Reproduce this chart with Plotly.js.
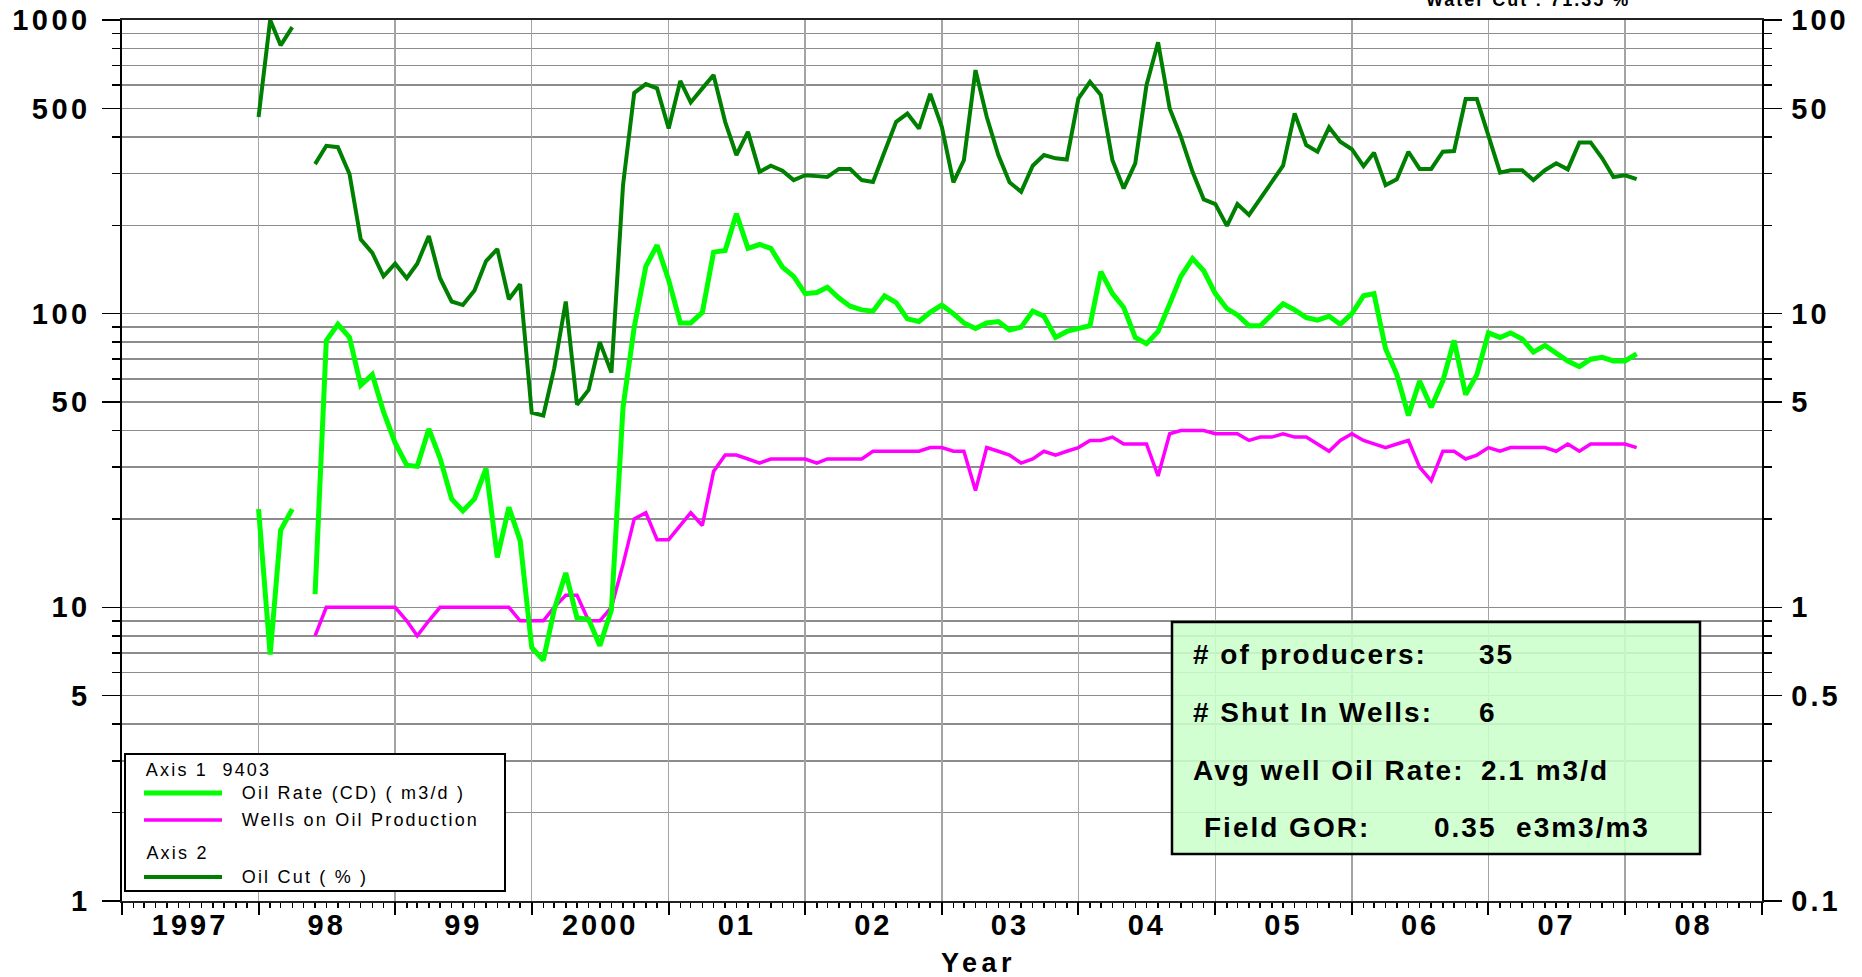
<!DOCTYPE html>
<html>
<head>
<meta charset="utf-8">
<script src="https://cdn.plot.ly/plotly-3.0.1.min.js"></script>
<style>
  html, body { margin: 0; padding: 0; background: #ffffff; }
  #chart { width: 1862px; height: 977px; }
  .xtick text { letter-spacing: 3px; }
  .ytick text { letter-spacing: 3.5px; }
  .y2tick text { letter-spacing: 3px; }
</style>
</head>
<body>
<div id="chart"></div>
<script>
// ---------------- DATA (monthly, Jan 1998 .. Feb 2008) ----------------
const firstYear = 1998;

// Oil Rate (CD) (m3/d) — Axis 1
const oilRate = [
  21.6, 6.9, 18.3, 21.6, null, 11.1, 81, 92, 83, 57, 62, 46.3,
  36.3, 30.5, 30.2, 40.5, 32.2, 23.4, 21.3, 23.4, 29.7, 14.8, 21.9, 16.9,
  7.3, 6.6, 9.8, 13.1, 9.2, 9.1, 7.4, 9.8, 48, 90, 145, 171,
  130, 93, 93, 101, 162, 164, 219, 167, 172, 167, 144, 134,
  117, 118, 123, 113, 106, 103, 102, 115, 109, 96, 94, 101,
  107, 100, 93, 89, 93, 94, 88, 90, 102, 98, 83, 87,
  89, 91, 139, 117, 105, 83, 79, 87, 108, 134, 154, 140,
  117, 104, 99, 91, 91, 99, 108, 103, 97, 95, 98, 92,
  100, 115, 117, 76, 62, 45, 59, 48, 59, 81, 53, 62,
  86, 83, 86, 82, 74, 78, 73, 69, 66, 70, 71, 69,
  69, 73
];

// Wells on Oil Production — Axis 1
const wellsOnProd = [
  null, null, null, null, null, 8, 10, 10, 10, 10, 10, 10,
  10, 9, 8, 9, 10, 10, 10, 10, 10, 10, 10, 9,
  9, 9, 10, 11, 11, 9, 9, 10, 14, 20, 21, 17,
  17, 19, 21, 19, 29, 33, 33, 32, 31, 32, 32, 32,
  32, 31, 32, 32, 32, 32, 34, 34, 34, 34, 34, 35,
  35, 34, 34, 25, 35, 34, 33, 31, 32, 34, 33, 34,
  35, 37, 37, 38, 36, 36, 36, 28, 39, 40, 40, 40,
  39, 39, 39, 37, 38, 38, 39, 38, 38, 36, 34, 37,
  39, 37, 36, 35, 36, 37, 30, 27, 34, 34, 32, 33,
  35, 34, 35, 35, 35, 35, 34, 36, 34, 36, 36, 36,
  36, 35
];

// Oil Cut (%) — Axis 2
const oilCut = [
  46.7, 100, 82, 94.6, null, 32.3, 37.3, 36.9, 29.9, 17.9, 16.1, 13.4,
  14.8, 13.2, 14.8, 18.4, 13.2, 11.0, 10.7, 12.0, 15.1, 16.6, 11.2, 12.6,
  4.6, 4.5, 6.5, 11.0, 4.9, 5.5, 8.0, 6.3, 27.4, 56.5, 60.5, 58.5,
  42.7, 62, 52.4, 58.5, 65, 45, 34.7, 41.6, 30.4, 31.9, 30.7, 28.5,
  29.6, 29.4, 29.2, 31.1, 31.1, 28.5, 28.1, 35.6, 45, 48, 42.7, 56,
  43.3, 28, 33.3, 67.5, 46.8, 34.7, 28, 26, 31.9, 34.7, 33.8, 33.5,
  54, 61.6, 55.5, 33.3, 26.7, 32.5, 60, 84, 50, 40, 30.4, 24.5,
  23.6, 19.9, 23.6, 21.7, 24.7, 28, 31.9, 48.1, 37.5, 35.6, 43.1, 38.5,
  36.3, 31.8, 35.3, 27.4, 28.7, 35.6, 31.1, 31.1, 35.6, 35.8, 53.8, 53.8,
  40, 30.2, 30.8, 30.8, 28.5, 30.8, 32.5, 31, 38.3, 38.3, 33.8, 29.2,
  29.6, 28.7
];

// Axis labels
const axisYears = [1997, 1998, 1999, 2000, 2001, 2002, 2003, 2004, 2005, 2006, 2007, 2008];
const yearLabels = ['1997', '98', '99', '2000', '01', '02', '03', '04', '05', '06', '07', '08'];
const leftTickVals = [1, 5, 10, 50, 100, 500, 1000];
const leftTickText = ['1', '5', '10', '50', '100', '500', '1000'];
const rightTickVals = [0.1, 0.5, 1, 5, 10, 50, 100];
const rightTickText = ['0.1', '0.5', '1', '5', '10', '50', '100'];

const legendTitle1 = 'Axis 1\u00a0\u00a09403';
const legendTitle2 = 'Axis 2';
const seriesNames = ['Oil Rate (CD) ( m3/d )', 'Wells on Oil Production', 'Oil Cut ( % )'];
const infoLabels = ['# of producers:', '# Shut In Wells:', 'Avg well Oil Rate:', 'Field GOR:'];
const infoValues = ['35', '6', '2.1 m3/d', '0.35\u00a0\u00a0e3m3/m3'];
const topNote = 'Water Cut : 71.35 %';

// ---------------- BUILD ----------------
const months = oilRate.map((_, i) => {
  const y = firstYear + Math.floor(i / 12);
  const m = (i % 12) + 1;
  return y + '-' + String(m).padStart(2, '0') + '-01';
});
const yearMid = axisYears.map(y => y + '-07-02');
const yearStart = axisYears.concat([2009]).map(y => y + '-01-01');
const xRange = ['1997-01-01', '2009-01-01'];

function minorLogVals(lo, hi, skip) {
  const out = [];
  for (let d = lo; d < hi; d *= 10) {
    for (let k = 2; k <= 9; k++) {
      if (skip.indexOf(k) === -1) out.push(+(k * d).toPrecision(3));
    }
  }
  return out;
}
const leftMinor = minorLogVals(1, 1000, [5]);
const rightMinor = minorLogVals(0.1, 100, [5]);

const FONT = 'Liberation Sans, Arial, Helvetica, sans-serif';
const C_RATE = '#00ff00', C_WELLS = '#ff00ff', C_CUT = '#008000';

const traces = [
  { x: months, y: wellsOnProd, type: 'scatter', mode: 'lines', name: seriesNames[1],
    line: { color: C_WELLS, width: 3.5 }, connectgaps: false, xaxis: 'x', yaxis: 'y' },
  { x: months, y: oilRate, type: 'scatter', mode: 'lines', name: seriesNames[0],
    line: { color: C_RATE, width: 5 }, connectgaps: false, xaxis: 'x', yaxis: 'y' },
  { x: months, y: oilCut, type: 'scatter', mode: 'lines', name: seriesNames[2],
    line: { color: C_CUT, width: 4 }, connectgaps: false, xaxis: 'x2', yaxis: 'y2' }
];

// plot area in px: left 122, right 1762, top 20, bottom 901
const PL = 122, PR = 1762, PT = 20, PB = 901;
const px = v => (v - PL) / (PR - PL);
const py = v => (PB - v) / (PB - PT);

// letter spacing per annotation (applied by CSS below); plotly measures the text
// without it, so left-anchored texts are shifted by half the extra width.
const annSpacing = [];
const ann = (text, x, y, size, bold, xanchor, ls) => {
  ls = ls || 0;
  const anchor = xanchor || 'left';
  const shift = anchor === 'left' ? text.length * ls / 2 : 0;
  annSpacing.push(ls);
  return {
    text: text, xref: 'paper', yref: 'paper', x: px(x + shift), y: py(y),
    xanchor: anchor, yanchor: 'middle', showarrow: false,
    font: { family: FONT, size: size, color: '#000', weight: bold ? 'bold' : 'normal' }
  };
};

const annotations = [
  ann(legendTitle1, 144, 770, 18, false, 'left', 2.2),
  ann(seriesNames[0], 240, 793, 18, false, 'left', 2.2),
  ann(seriesNames[1], 240, 820, 18, false, 'left', 2.2),
  ann(legendTitle2, 144, 853, 18, false, 'left', 2.2),
  ann(seriesNames[2], 240, 877, 18, false, 'left', 2.2),
  ann(infoLabels[0], 1191, 654, 28, true, 'left', 2),
  ann(infoValues[0], 1477, 654, 28, true, 'left', 2),
  ann(infoLabels[1], 1191, 712, 28, true, 'left', 2),
  ann(infoValues[1], 1477, 712, 28, true, 'left', 2),
  ann(infoLabels[2], 1191, 770, 28, true, 'left', 2),
  ann(infoValues[2], 1479, 770, 28, true, 'left', 2),
  ann(infoLabels[3], 1202, 827, 28, true, 'left', 2),
  ann(infoValues[3], 1432, 827, 28, true, 'left', 2),
  ann('Year', 979, 963, 27, true, 'center', 4.5),
  ann(topNote, 1528, 0, 18, true, 'center', 2)
];

// CSS letter-spacing for each annotation
(function () {
  const css = annSpacing.map((ls, i) =>
    'g.annotation[data-index="' + i + '"] text { letter-spacing: ' + ls + 'px; }').join('\n');
  const st = document.createElement('style');
  st.textContent = css;
  document.head.appendChild(st);
})();

const shapes = [
  // legend box
  { type: 'rect', xref: 'paper', yref: 'paper', x0: px(125), x1: px(505), y0: py(891), y1: py(754),
    fillcolor: '#ffffff', line: { color: '#000', width: 2 }, layer: 'above' },
  { type: 'line', xref: 'paper', yref: 'paper', x0: px(144), x1: px(222), y0: py(793), y1: py(793),
    line: { color: C_RATE, width: 5 }, layer: 'above' },
  { type: 'line', xref: 'paper', yref: 'paper', x0: px(144), x1: px(222), y0: py(820), y1: py(820),
    line: { color: C_WELLS, width: 3.5 }, layer: 'above' },
  { type: 'line', xref: 'paper', yref: 'paper', x0: px(144), x1: px(222), y0: py(877), y1: py(877),
    line: { color: C_CUT, width: 4 }, layer: 'above' },
  // info box
  { type: 'rect', xref: 'paper', yref: 'paper', x0: px(1172), x1: px(1700), y0: py(854), y1: py(622),
    fillcolor: 'rgba(204,255,204,0.88)', line: { color: '#000', width: 2.5 }, layer: 'above' }
];

const tickFont = { family: FONT, size: 29, color: '#000', weight: 'bold' };

const layout = {
  width: 1862, height: 977,
  margin: { l: PL, r: 1862 - PR, t: PT, b: 977 - PB, pad: 0 },
  paper_bgcolor: '#ffffff', plot_bgcolor: '#ffffff',
  showlegend: false,
  font: { family: FONT, color: '#000' },
  xaxis: {
    type: 'date', range: xRange, tickmode: 'array', tickvals: yearMid, ticktext: yearLabels,
    ticks: '', showgrid: false, zeroline: false,
    showline: true, linecolor: '#222', linewidth: 2, mirror: true,
    tickfont: tickFont, ticklabelstandoff: -3,
    minor: { ticks: 'outside', ticklen: 5, tickwidth: 1.5, tickcolor: '#000',
             dtick: 'M1', tick0: '1997-01-01', showgrid: false }
  },
  xaxis2: {
    type: 'date', range: xRange, overlaying: 'x', anchor: 'y', side: 'bottom',
    tickmode: 'array', tickvals: yearStart, showticklabels: false,
    ticks: 'outside', ticklen: 13, tickwidth: 2, tickcolor: '#000',
    showgrid: true, gridcolor: '#a4a4a4', gridwidth: 1.5, zeroline: false, showline: false
  },
  yaxis: {
    type: 'log', range: [0, 3], tickmode: 'array', tickvals: leftTickVals, ticktext: leftTickText,
    ticks: 'outside', ticklen: 18, tickwidth: 1.5, tickcolor: '#000',
    showgrid: true, gridcolor: '#8c8c8c', gridwidth: 1.5, zeroline: false,
    showline: true, linecolor: '#000', linewidth: 2.5,
    tickfont: tickFont, ticklabelstandoff: 5,
    minor: { tickmode: 'array', tickvals: leftMinor, ticks: 'outside', ticklen: 8, tickwidth: 1.5,
             tickcolor: '#000', showgrid: true, gridcolor: '#8c8c8c', gridwidth: 1.5 }
  },
  yaxis2: {
    type: 'log', range: [-1, 2], overlaying: 'y', side: 'right', anchor: 'x',
    tickmode: 'array', tickvals: rightTickVals, ticktext: rightTickText,
    ticks: 'outside', ticklen: 18, tickwidth: 1.5, tickcolor: '#000',
    showgrid: false, zeroline: false, showline: true, linecolor: '#000', linewidth: 1.5,
    tickfont: tickFont, ticklabelstandoff: 4,
    minor: { tickmode: 'array', tickvals: rightMinor, ticks: 'outside', ticklen: 8, tickwidth: 1.5,
             tickcolor: '#000', showgrid: false }
  },
  annotations: annotations,
  shapes: shapes
};

Plotly.newPlot('chart', traces, layout, { staticPlot: true, displayModeBar: false });
</script>
</body>
</html>
